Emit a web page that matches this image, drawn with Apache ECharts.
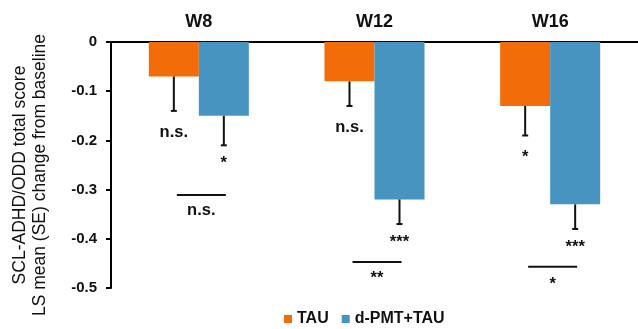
<!DOCTYPE html>
<html><head><meta charset="utf-8">
<script src="https://cdn.jsdelivr.net/npm/echarts@6/dist/echarts.min.js"></script>
<style>html,body{margin:0;padding:0;background:#fff}#c{width:638px;height:329px}</style>
</head><body><div id="c"></div>
<script>
const categories = ['W8', 'W12', 'W16'];
const seriesNames = ['TAU', 'd-PMT+TAU'];
const tauMeans = [-0.07, -0.08, -0.13];
const tauSE = [0.07, 0.05, 0.06];
const pmtMeans = [-0.15, -0.32, -0.33];
const pmtSE = [0.06, 0.05, 0.05];
const yTicks = [0, -0.1, -0.2, -0.3, -0.4, -0.5];
// annotations: [categoryIndex, yValue, text, side(0=TAU,1=d-PMT)]
const sigLabels = [
  [0, -0.183, 'n.s.', 0], [0, -0.246, '*', 1],
  [1, -0.173, 'n.s.', 0], [1, -0.408, '***', 1],
  [2, -0.234, '*', 0], [2, -0.418, '***', 1]
];
// between-group brackets: [categoryIndex, yValue, label, labelY]
const brackets = [
  [0, -0.311, 'n.s.', -0.342],
  [1, -0.447, '**', -0.48],
  [2, -0.457, '*', -0.492]
];
const colors = ['#F26C0A', '#4894C0'];
const FONT = 'Liberation Sans, Arial, sans-serif';

const chart = echarts.init(document.getElementById('c'));
const BARW = 50;

function sideX(api, cat, side) {
  const c = api.coord([cat, 0])[0];
  return c + (side === 0 ? -BARW / 2 : BARW / 2);
}

const errData = [];
tauMeans.forEach((m, i) => errData.push([i, m, tauSE[i], 0]));
pmtMeans.forEach((m, i) => errData.push([i, m, pmtSE[i], 1]));

chart.setOption({
  animation: false,
  grid: { left: 111, top: 42, width: 528, height: 246 },
  legend: {
    data: seriesNames, left: 279, top: 306, icon: 'rect', itemWidth: 8, itemHeight: 8, itemGap: 13,
    textStyle: { fontFamily: FONT, fontWeight: 'bold', fontSize: 16, color: '#111' }
  },
  graphic: [{
    type: 'text', x: 30.5, y: 175, rotation: Math.PI / 2,
    style: { text: 'SCL-ADHD/ODD total score\nLS mean (SE) change from baseline', font: '17.5px ' + FONT, fill: '#111', textAlign: 'center', textVerticalAlign: 'middle', lineHeight: 20 }
  }],
  xAxis: {
    type: 'category', data: categories, position: 'top',
    axisLine: { lineStyle: { color: '#000', width: 2 } },
    axisTick: { length: 5, lineStyle: { color: '#000', width: 2 } },
    axisLabel: { fontFamily: FONT, fontWeight: 'bold', fontSize: 18, color: '#111', margin: 11 }
  },
  yAxis: {
    type: 'value', min: -0.5, max: 0, interval: 0.1,
    axisLine: { show: true, lineStyle: { color: '#000', width: 2 } },
    axisTick: { show: true, length: 5, lineStyle: { color: '#000', width: 2 } },
    splitLine: { show: false },
    axisLabel: {
      fontFamily: FONT, fontWeight: 'bold', fontSize: 15, color: '#111', margin: 14,
      formatter: v => { const t = yTicks.find(x => Math.abs(x - v) < 1e-9); return t === 0 ? '0' : t.toFixed(1); }
    }
  },
  series: [
    { name: seriesNames[0], type: 'bar', data: tauMeans, barWidth: BARW, barGap: '0%', itemStyle: { color: colors[0] } },
    { name: seriesNames[1], type: 'bar', data: pmtMeans, barWidth: BARW, barGap: '0%', itemStyle: { color: colors[1] } },
    {
      type: 'custom', data: errData, z: 5,
      renderItem: (params, api) => {
        const cat = api.value(0), m = api.value(1), se = api.value(2), side = api.value(3);
        const x = sideX(api, cat, side);
        const y0 = api.coord([cat, m])[1];
        const y1 = api.coord([cat, m - se])[1];
        return { type: 'group', children: [
          { type: 'line', shape: { x1: x, y1: y0, x2: x, y2: y1 }, style: { stroke: '#111', lineWidth: 2 } },
          { type: 'line', shape: { x1: x - 3, y1: y1, x2: x + 3, y2: y1 }, style: { stroke: '#111', lineWidth: 2 } }
        ] };
      }
    },
    {
      type: 'custom', data: sigLabels, z: 5,
      renderItem: (params, api) => {
        const d = sigLabels[params.dataIndex];
        const x = sideX(api, d[0], d[3]);
        const y = api.coord([d[0], d[1]])[1];
        return { type: 'text', x: x, y: y, style: { text: d[2], font: 'bold 16.5px ' + FONT, fill: '#111', textAlign: 'center', textVerticalAlign: 'middle' } };
      }
    },
    {
      type: 'custom', data: brackets, z: 5,
      renderItem: (params, api) => {
        const d = brackets[params.dataIndex];
        const xa = sideX(api, d[0], 0) + 3, xb = sideX(api, d[0], 1) + 2;
        const y = api.coord([d[0], d[1]])[1];
        const ly = api.coord([d[0], d[3]])[1];
        return { type: 'group', children: [
          { type: 'line', shape: { x1: xa, y1: y, x2: xb, y2: y }, style: { stroke: '#111', lineWidth: 2 } },
          { type: 'text', x: (xa + xb) / 2, y: ly, style: { text: d[2], font: 'bold 16.5px ' + FONT, fill: '#111', textAlign: 'center', textVerticalAlign: 'middle' } }
        ] };
      }
    }
  ]
});
</script></body></html>
